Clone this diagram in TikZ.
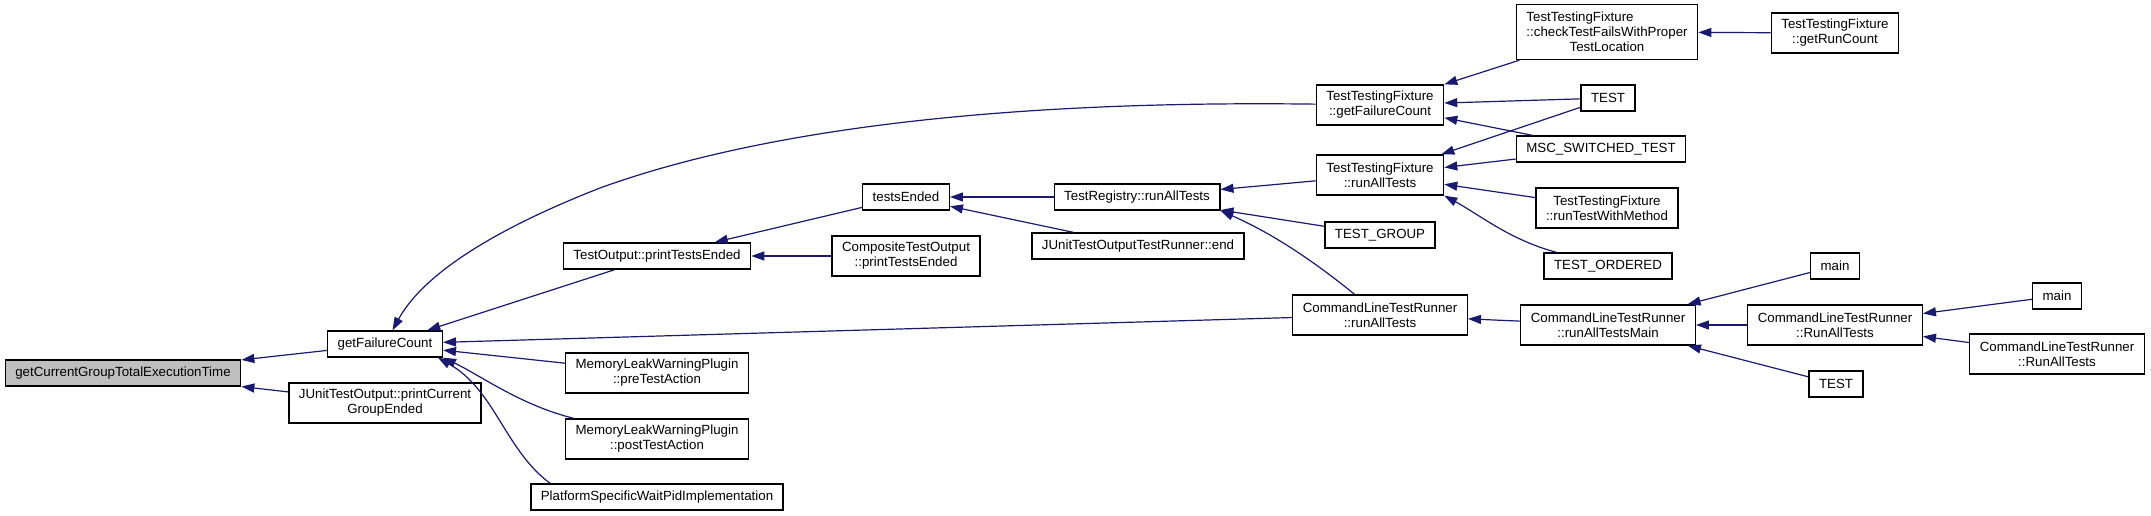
\documentclass[tikz,border=0pt]{standalone}
\usepackage{fontspec}
\setmainfont{Liberation Sans}
\usetikzlibrary{arrows.meta}
\definecolor{edgeblue}{HTML}{191970}
\definecolor{rootgray}{HTML}{BFBFBF}
\newcommand{\dxfont}{\fontsize{13.3}{15}\selectfont}

\begin{document}
\begin{tikzpicture}[x=1pt, y=-1pt,
  fn/.style={draw, fill=white, line width=1.4pt, font=\dxfont, align=center, inner xsep=10pt, inner ysep=2pt, minimum height=26pt},
  fn2/.style={fn, minimum height=40pt},
  fn3/.style={fn, minimum height=55pt},
  root/.style={fn, fill=rootgray},
  call/.style={->, draw=edgeblue, line width=1.2pt},
  >={Triangle[length=13pt, width=9pt]}]
  \useasboundingbox (0,0) rectangle (2151,516);
  % first column
  \node[root] (cur) at (123,373) {getCurrentGroupTotalExecutionTime};
  \node[fn] (gfc) at (385,344) {getFailureCount};
  \node[fn2] (pcge) at (385,403) {JUnitTestOutput::printCurrent\\GroupEnded};
  % second column
  \node[fn] (tope) at (657,256) {TestOutput::printTestsEnded};
  \node[fn2] (pre) at (657,373) {MemoryLeakWarningPlugin\\::preTestAction};
  \node[fn2] (post) at (657,439) {MemoryLeakWarningPlugin\\::postTestAction};
  \node[fn] (plat) at (657,497) {PlatformSpecificWaitPidImplementation};
  \node[fn] (ended) at (906,197) {testsEnded};
  \node[fn2] (ctope) at (906,256) {CompositeTestOutput\\::printTestsEnded};
  \node[fn] (regrun) at (1137,197) {TestRegistry::runAllTests};
  \node[fn] (jend) at (1138,246) {JUnitTestOutputTestRunner::end};
  % fixture column
  \node[fn2] (ttfgfc) at (1380,105) {TestTestingFixture\\::getFailureCount};
  \node[fn2] (ttfrun) at (1380,175) {TestTestingFixture\\::runAllTests};
  \node[fn] (tgroup) at (1380,235) {TEST\_GROUP};
  \node[fn2] (cltr) at (1380,315) {CommandLineTestRunner\\::runAllTests};
  \node[fn3] (ctf) at (1607,32) {\rlap{TestTestingFixture}\phantom{::checkTestFailsWithProper}\\::checkTestFailsWithProper\\TestLocation};
  \node[fn] (testa) at (1608,98) {TEST};
  \node[fn] (msc) at (1601,149) {MSC\_SWITCHED\_TEST};
  \node[fn2] (rtwm) at (1607,208) {TestTestingFixture\\::runTestWithMethod};
  \node[fn] (tord) at (1608,266) {TEST\_ORDERED};
  \node[fn2] (ratm) at (1608,325) {CommandLineTestRunner\\::runAllTestsMain};
  % right columns
  \node[fn2] (grc) at (1835,33) {TestTestingFixture\\::getRunCount};
  \node[fn] (maina) at (1835,266) {main};
  \node[fn2] (rat) at (1835,325) {CommandLineTestRunner\\::RunAllTests};
  \node[fn] (testb) at (1836,384) {TEST};
  \node[fn] (mainb) at (2057,296) {main};
  \node[fn2] (rat2) at (2057,354) {CommandLineTestRunner\\::RunAllTests};
  % calls
  \draw[call] (gfc) -- (cur);
  \draw[call] (pcge) -- (cur);
  \draw[call] (tope) -- (gfc);
  \draw[call] (ttfgfc) .. controls (1000,100) and (760,130) .. (600,188) .. controls (480,235) and (420,280) .. (gfc);
  \draw[call] (cltr) -- (gfc);
  \draw[call] (pre) -- (gfc);
  \draw[call] (post) .. controls (520,405) and (480,375) .. (gfc.south east);
  \draw[call] ([xshift=20pt]plat.north west) .. controls (505,450) and (495,390) .. ([xshift=-5pt]gfc.south east);
  \draw[call] (ended) -- (tope);
  \draw[call] (ctope) -- (tope);
  \draw[call] (regrun) -- (ended);
  \draw[call] (jend) -- (ended);
  \draw[call] (ttfrun) -- (regrun);
  \draw[call] (tgroup) -- (regrun);
  \draw[call] (cltr) .. controls (1300,250) and (1260,228) .. (regrun.south east);
  \draw[call] (ctf) -- (ttfgfc);
  \draw[call] (testa) -- (ttfgfc);
  \draw[call] (msc) -- (ttfgfc);
  \draw[call] (testa) -- (ttfrun);
  \draw[call] (msc) -- (ttfrun);
  \draw[call] (rtwm) -- (ttfrun);
  \draw[call] (tord) .. controls (1510,240) and (1480,215) .. (ttfrun.south east);
  \draw[call] (grc) -- (ctf);
  \draw[call] (ratm) -- (cltr);
  \draw[call] (maina) -- (ratm);
  \draw[call] (rat) -- (ratm);
  \draw[call] (testb) -- (ratm);
  \draw[call] (mainb) -- (rat);
  \draw[call] (rat2) -- (rat);
\end{tikzpicture}
\end{document}
